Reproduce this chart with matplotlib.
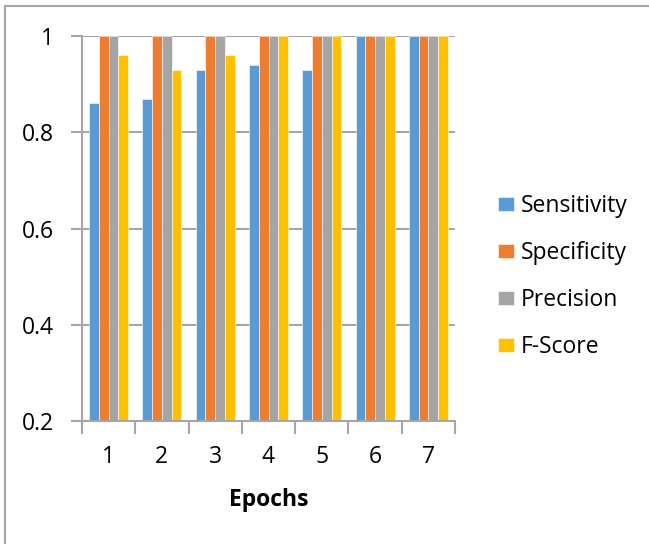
import matplotlib
matplotlib.use("Agg")
import matplotlib.pyplot as plt
from matplotlib.patches import Rectangle
import numpy as np

plt.rcParams['font.family'] = ['Open Sans', 'DejaVu Sans']

epochs = ["1", "2", "3", "4", "5", "6", "7"]
series_names = ["Sensitivity", "Specificity", "Precision", "F-Score"]
sensitivity = [0.86, 0.87, 0.93, 0.94, 0.93, 1.0, 1.0]
specificity = [1.0, 1.0, 1.0, 1.0, 1.0, 1.0, 1.0]
precision = [1.0, 1.0, 1.0, 1.0, 1.0, 1.0, 1.0]
f_score = [0.96, 0.93, 0.96, 1.0, 1.0, 1.0, 1.0]
yticks = [0.2, 0.4, 0.6, 0.8, 1.0]
ytick_labels = ["0.2", "0.4", "0.6", "0.8", "1"]

colors = ["#5B9BD5", "#ED7D31", "#A5A5A5", "#FFC000"]
series = [sensitivity, specificity, precision, f_score]

FS = 16.5
W, H = 649, 544
fig = plt.figure(figsize=(W / 100, H / 100), dpi=100)
ax = fig.add_axes([82 / W, 1 - 421 / H, (455 - 82) / W, (421 - 36) / H])

x = np.arange(1, len(epochs) + 1)
bw = 0.183
for i, (vals, name, c) in enumerate(zip(series, series_names, colors)):
    ax.bar(x + (i - 1.5) * bw, vals, width=bw, color=c, label=name,
           edgecolor="white", linewidth=0.4, zorder=3)

ax.set_xlim(0.5, len(epochs) + 0.5)
ax.set_ylim(0.2, 1.0)
ax.set_yticks(yticks)
ax.set_yticklabels(ytick_labels)
ax.set_xticks(x)
ax.set_xticklabels(epochs)
ax.set_xticks(np.arange(0.5, len(epochs) + 1, 1.0), minor=True)
ax.tick_params(axis="x", which="major", length=0, pad=17, labelsize=FS)
ax.tick_params(axis="x", which="minor", length=9, width=1.5, color="#A6A6A6")
ax.tick_params(axis="y", length=8, width=1.5, color="#A6A6A6", pad=12, labelsize=FS)

ax.grid(axis="y", color="#A6A6A6", linewidth=1.5, zorder=0)
for s in ["top", "right"]:
    ax.spines[s].set_visible(False)
for s in ["left", "bottom"]:
    ax.spines[s].set_color("#A6A6A6")
    ax.spines[s].set_linewidth(1.5)
ax.spines["bottom"].set_zorder(4)

ax.set_xlabel("Epochs", fontsize=FS, fontweight="bold", labelpad=14)

leg = fig.legend(loc="upper left", bbox_to_anchor=(487 / W, 1 - 183 / H),
                 frameon=False, fontsize=FS, handlelength=0.68, handleheight=0.55,
                 handletextpad=0.3, labelspacing=1.0, borderpad=0)

fig.patches.append(Rectangle((5 / W, -0.1), 2, 1 - 6 / H + 0.1,
                             transform=fig.transFigure, fill=False,
                             edgecolor="#A6A6A6", linewidth=1.5))

fig.savefig("out.png", dpi=100)
